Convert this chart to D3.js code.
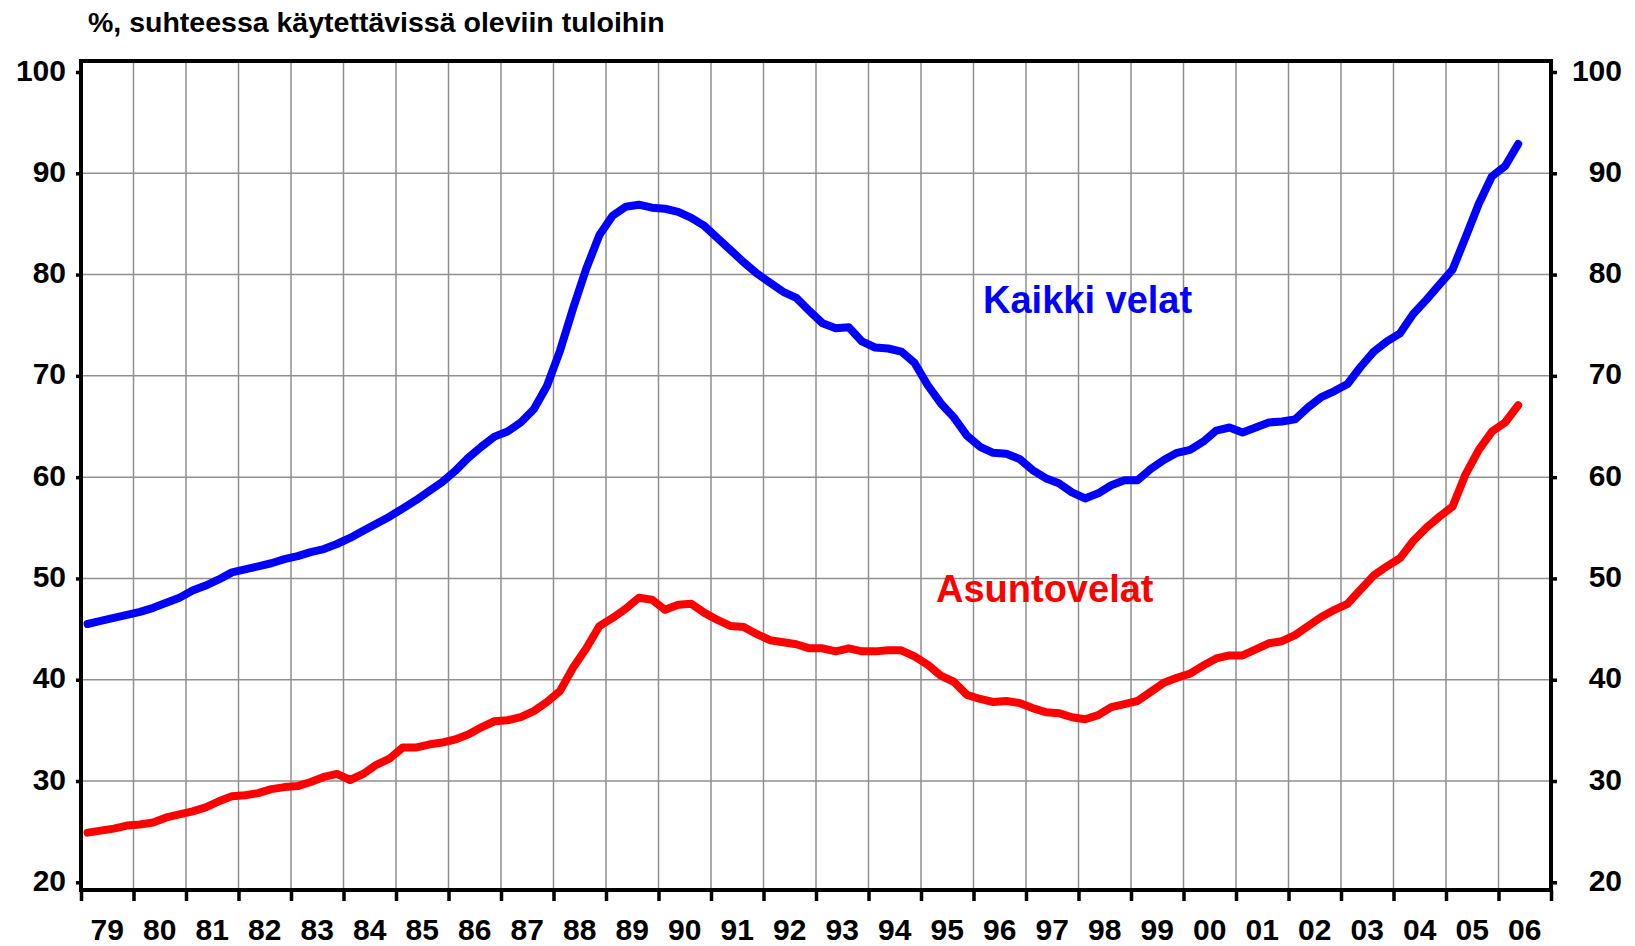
<html>
<head>
<style>
body {
  margin: 0;
  background: white;
  font-family: Arial, "Liberation Sans", sans-serif;
}

svg {
  display: block;
}

text {
  font-weight: bold;
  fill: black;
}

.grid line {
  stroke: #8f8f8f;
  stroke-width: 1.5;
}
</style>
</head>
<body>
<script type="text/javascript" src="https://cdnjs.cloudflare.com/ajax/libs/d3/7.8.5/d3.min.js"></script>
<script type="text/javascript">
// quarterly, 1979Q1 - 2006Q2
var firstYear = 1979

var kaikkiVelat = [
  45.5, 45.8, 46.1, 46.4,
  46.7, 47.1, 47.6, 48.1,
  48.8, 49.3, 49.9, 50.6,
  50.9, 51.2, 51.5, 51.9,
  52.2, 52.6, 52.9, 53.4,
  54.0, 54.7, 55.4, 56.1,
  56.9, 57.7, 58.6, 59.5,
  60.6, 61.9, 63.0, 64.0,
  64.5, 65.4, 66.7, 69.0,
  72.5, 76.7, 80.6, 83.9,
  85.8, 86.7, 86.9, 86.6,
  86.5, 86.2, 85.6, 84.8,
  83.6, 82.4, 81.2, 80.1,
  79.2, 78.3, 77.7, 76.4,
  75.2, 74.7, 74.8, 73.4,
  72.8, 72.7, 72.4, 71.3,
  69.1, 67.3, 65.9, 64.1,
  63.0, 62.4, 62.3, 61.8,
  60.7, 59.9, 59.4, 58.5,
  57.9, 58.4, 59.2, 59.7,
  59.7, 60.8, 61.7, 62.4,
  62.7, 63.5, 64.6, 64.9,
  64.4, 64.9, 65.4, 65.5,
  65.7, 66.9, 67.9, 68.5,
  69.2, 70.9, 72.4, 73.4,
  74.2, 76.1, 77.5, 79.0,
  80.5, 83.7, 87.0, 89.7,
  90.7, 92.9
]

var asuntovelat = [
  24.9, 25.1, 25.3, 25.6,
  25.7, 25.9, 26.4, 26.7,
  27.0, 27.4, 28.0, 28.5,
  28.6, 28.8, 29.2, 29.4,
  29.5, 29.9, 30.4, 30.7,
  30.1, 30.7, 31.6, 32.2,
  33.3, 33.3, 33.6, 33.8,
  34.1, 34.6, 35.3, 35.9,
  36.0, 36.3, 36.9, 37.8,
  38.9, 41.2, 43.1, 45.3,
  46.1, 47.0, 48.1, 47.9,
  46.9, 47.4, 47.5, 46.6,
  45.9, 45.3, 45.2, 44.5,
  43.9, 43.7, 43.5, 43.1,
  43.1, 42.8, 43.1, 42.8,
  42.8, 42.9, 42.9, 42.3,
  41.5, 40.4, 39.8, 38.5,
  38.1, 37.8, 37.9, 37.7,
  37.2, 36.8, 36.7, 36.3,
  36.1, 36.5, 37.3, 37.6,
  37.9, 38.8, 39.7, 40.2,
  40.6, 41.4, 42.1, 42.4,
  42.4, 43.0, 43.6, 43.8,
  44.4, 45.3, 46.2, 46.9,
  47.5, 48.9, 50.3, 51.2,
  52.0, 53.7, 55.0, 56.1,
  57.1, 60.3, 62.7, 64.5,
  65.4, 67.1
]

var yearLabels = ['79','80','81','82','83','84','85','86','87','88','89','90','91','92',
  '93','94','95','96','97','98','99','00','01','02','03','04','05','06']
var yTicks = [20, 30, 40, 50, 60, 70, 80, 90, 100]
var yGrid = [30, 40, 50, 60, 70, 80, 90]

var title = '%, suhteessa käytettävissä oleviin tuloihin'

var width = 1635,
    height = 946,
    plotLeft = 81,
    plotRight = 1551,
    plotTop = 61,
    plotBottom = 890;

var svg = d3.select("body")
  .append("svg")
  .attr("width", width)
  .attr("height", height)

var lastYear = firstYear + yearLabels.length
var years = d3.range(firstYear, lastYear + 1)

var x = d3.scaleLinear().domain([firstYear, lastYear]).range([plotLeft, plotRight])
var y = d3.scaleLinear().domain([20, 100]).range([882.3, 72])

// grid
var grid = svg.append("g").attr("class", "grid")

grid.selectAll(".v")
  .data(years.slice(1, -1))
  .enter().append("line")
  .attr("x1", function(d) { return x(d) })
  .attr("x2", function(d) { return x(d) })
  .attr("y1", plotTop)
  .attr("y2", plotBottom)

grid.selectAll(".h")
  .data(yGrid)
  .enter().append("line")
  .attr("x1", plotLeft)
  .attr("x2", plotRight)
  .attr("y1", function(d) { return y(d) })
  .attr("y2", function(d) { return y(d) })

// lines
function quarterTime(d, i) {
  return firstYear + (i + 0.5) / 4
}

var line = d3.line()
  .x(function(d, i) { return x(quarterTime(d, i)) })
  .y(function(d) { return y(d) })

svg.append("path")
  .datum(asuntovelat)
  .attr("d", line)
  .attr("fill", "none")
  .attr("stroke", "#ff0000")
  .attr("stroke-width", 8)
  .attr("stroke-linecap", "round")
  .attr("stroke-linejoin", "round")

svg.append("path")
  .datum(kaikkiVelat)
  .attr("d", line)
  .attr("fill", "none")
  .attr("stroke", "#0000ff")
  .attr("stroke-width", 8)
  .attr("stroke-linecap", "round")
  .attr("stroke-linejoin", "round")

// frame
svg.append("rect")
  .attr("x", plotLeft)
  .attr("y", plotTop)
  .attr("width", plotRight - plotLeft)
  .attr("height", plotBottom - plotTop)
  .attr("fill", "none")
  .attr("stroke", "black")
  .attr("stroke-width", 4)

// axes
var leftAxis = svg.append("g")
  .attr("transform", "translate(" + plotLeft + ",0)")
  .call(d3.axisLeft(y).tickValues(yTicks).tickSize(5).tickPadding(10))

var rightAxis = svg.append("g")
  .attr("transform", "translate(" + plotRight + ",0)")
  .call(d3.axisRight(y).tickValues(yTicks).tickSize(6).tickPadding(10))

rightAxis.selectAll("text")
  .attr("text-anchor", "end")
  .attr("x", 71)

var bottomAxis = svg.append("g")
  .attr("transform", "translate(0," + plotBottom + ")")
  .call(d3.axisBottom(x).tickValues(years).tickSize(11).tickFormat(""))

svg.selectAll(".domain").remove()

svg.selectAll(".tick line")
  .attr("stroke", "black")
  .attr("stroke-width", 3.5)

leftAxis.selectAll("text").attr("dy", "0.27em")
rightAxis.selectAll("text").attr("dy", "0.27em")

svg.selectAll(".tick text")
  .style("font-size", "30px")
  .style("font-family", 'Arial, "Liberation Sans", sans-serif')
  .style("font-weight", "bold")
  .attr("fill", "black")

svg.selectAll(".yearLabel")
  .data(yearLabels)
  .enter().append("text")
  .attr("class", "yearLabel")
  .attr("x", function(d, i) { return x(firstYear + i + 0.5) })
  .attr("y", 940)
  .attr("text-anchor", "middle")
  .style("font-size", "30px")
  .text(function(d) { return d })

// texts
svg.append("text")
  .attr("x", 88)
  .attr("y", 32)
  .style("font-size", "28.5px")
  .text(title)

svg.append("text")
  .attr("x", 983)
  .attr("y", 313)
  .style("font-size", "38px")
  .style("fill", "#0000ff")
  .text("Kaikki velat")

svg.append("text")
  .attr("x", 936)
  .attr("y", 602)
  .style("font-size", "38px")
  .style("fill", "#ff0000")
  .text("Asuntovelat")

</script>
</body>
</html>
